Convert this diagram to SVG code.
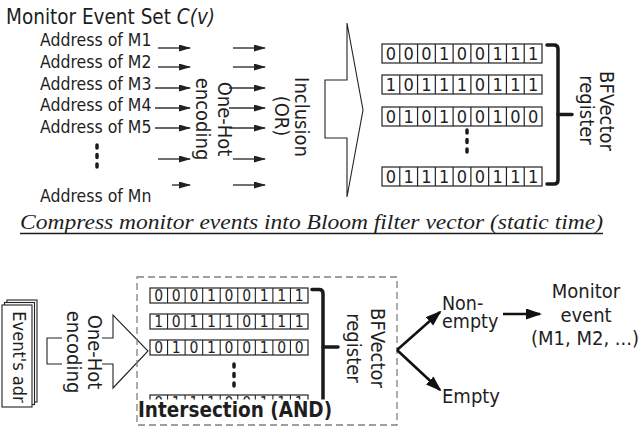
<svg xmlns="http://www.w3.org/2000/svg" width="642" height="428" viewBox="0 0 642 428">
<style>
.t{font-family:"DejaVu Sans Condensed","DejaVu Sans",sans-serif;fill:#1e1e1e;}
.lbl{font-size:17.5px;}
.big{font-size:20px;}
.rt{font-size:20px;text-anchor:middle;}
.bit{font-size:18px;text-anchor:middle;}
.bits{font-size:15.5px;text-anchor:middle;}
.cell{fill:#fff;stroke:#222;stroke-width:1.2;}
.thin{stroke:#333;stroke-width:1.4;fill:none;}
.thick{stroke:#111;stroke-width:2.6;fill:none;}
.brace{stroke:#1a1a1a;stroke-width:3.5;fill:none;stroke-linecap:round;stroke-linejoin:round;}
.dots{stroke:#1a1a1a;stroke-width:3.5;stroke-linecap:round;stroke-dasharray:3 6.5;fill:none;}
.bigarrow{fill:#fff;stroke:#222;stroke-width:1.1;}
</style>
<defs>
<marker id="ah" markerUnits="userSpaceOnUse" markerWidth="12" markerHeight="8" refX="11" refY="3.5" orient="auto">
<path d="M0,0 L12,3.5 L0,7 z" fill="#222"/>
</marker>
<marker id="ahb" markerUnits="userSpaceOnUse" markerWidth="16" markerHeight="12" refX="14" refY="5.5" orient="auto">
<path d="M0,0 L16,5.5 L0,11 z" fill="#111"/>
</marker>
<g id="row0"><rect class="cell" x="0" y="0" width="160" height="19"/></g>
</defs>

<!-- ===== Top section ===== -->
<g id="title">
<text class="t" x="6" y="24" style="font-size:20.5px">Monitor Event Set <tspan font-style="italic">C(v)</tspan></text>
</g>

<g id="addresses">
<text class="t lbl" x="40" y="46">Address of M1</text>
<text class="t lbl" x="40" y="68">Address of M2</text>
<text class="t lbl" x="40" y="90">Address of M3</text>
<text class="t lbl" x="40" y="111">Address of M4</text>
<text class="t lbl" x="40" y="133">Address of M5</text>
<text class="t lbl" x="40" y="202">Address of Mn</text>
<line class="dots" x1="97" y1="145" x2="97" y2="171"/>
</g>

<g id="connectors-top">
<line class="thin" x1="158" y1="48" x2="190" y2="48" marker-end="url(#ah)"/>
<line class="thin" x1="158" y1="67" x2="190" y2="67" marker-end="url(#ah)"/>
<line class="thin" x1="155" y1="88" x2="190" y2="88" marker-end="url(#ah)"/>
<line class="thin" x1="155" y1="108" x2="190" y2="108" marker-end="url(#ah)"/>
<line class="thin" x1="155" y1="128" x2="190" y2="128" marker-end="url(#ah)"/>
<line class="thin" x1="158" y1="159" x2="190" y2="159" marker-end="url(#ah)"/>
<line class="thin" x1="172" y1="185" x2="190" y2="185" marker-end="url(#ah)"/>
<line class="thin" x1="233" y1="48" x2="265" y2="48" marker-end="url(#ah)"/>
<line class="thin" x1="233" y1="67" x2="265" y2="67" marker-end="url(#ah)"/>
<line class="thin" x1="229" y1="88" x2="265" y2="88" marker-end="url(#ah)"/>
<line class="thin" x1="229" y1="108" x2="265" y2="108" marker-end="url(#ah)"/>
<line class="thin" x1="229" y1="128" x2="265" y2="128" marker-end="url(#ah)"/>
<line class="thin" x1="233" y1="159" x2="265" y2="159" marker-end="url(#ah)"/>
<line class="thin" x1="233" y1="185" x2="265" y2="185" marker-end="url(#ah)"/>
</g>

<g id="onehot-top">
<text class="t rt" transform="translate(218,119) rotate(90)">One-Hot</text>
<text class="t rt" transform="translate(196,119) rotate(90)">encoding</text>
</g>

<g id="inclusion">
<text class="t rt" transform="translate(294.5,117) rotate(90)">Inclusion</text>
<text class="t rt" transform="translate(274.5,116) rotate(90)">(OR)</text>
</g>

<g id="bigarrow-top">
<polygon class="bigarrow" points="325,80 347,80 347,23 363,110 347,197 347,138 325,138"/>
</g>

<g id="vectors-top">
<g transform="translate(382,44)">
<rect class="cell" x="0" y="0" width="160" height="19"/>
<path d="M17.78,0v19M35.56,0v19M53.33,0v19M71.11,0v19M88.89,0v19M106.67,0v19M124.44,0v19M142.22,0v19" stroke="#222" stroke-width="1.2"/>
<text class="t bit" y="16"><tspan x="8.9">0</tspan><tspan x="26.7">0</tspan><tspan x="44.4">0</tspan><tspan x="62.2">1</tspan><tspan x="80">0</tspan><tspan x="97.8">0</tspan><tspan x="115.6">1</tspan><tspan x="133.3">1</tspan><tspan x="151.1">1</tspan></text>
</g>
<g transform="translate(382,75)">
<rect class="cell" x="0" y="0" width="160" height="19"/>
<path d="M17.78,0v19M35.56,0v19M53.33,0v19M71.11,0v19M88.89,0v19M106.67,0v19M124.44,0v19M142.22,0v19" stroke="#222" stroke-width="1.2"/>
<text class="t bit" y="16"><tspan x="8.9">1</tspan><tspan x="26.7">0</tspan><tspan x="44.4">1</tspan><tspan x="62.2">1</tspan><tspan x="80">1</tspan><tspan x="97.8">0</tspan><tspan x="115.6">1</tspan><tspan x="133.3">1</tspan><tspan x="151.1">1</tspan></text>
</g>
<g transform="translate(382,107)">
<rect class="cell" x="0" y="0" width="160" height="19"/>
<path d="M17.78,0v19M35.56,0v19M53.33,0v19M71.11,0v19M88.89,0v19M106.67,0v19M124.44,0v19M142.22,0v19" stroke="#222" stroke-width="1.2"/>
<text class="t bit" y="16"><tspan x="8.9">0</tspan><tspan x="26.7">1</tspan><tspan x="44.4">0</tspan><tspan x="62.2">1</tspan><tspan x="80">0</tspan><tspan x="97.8">0</tspan><tspan x="115.6">1</tspan><tspan x="133.3">0</tspan><tspan x="151.1">0</tspan></text>
</g>
<line class="dots" x1="467" y1="130" x2="467" y2="158"/>
<g transform="translate(382,167)">
<rect class="cell" x="0" y="0" width="160" height="19"/>
<path d="M17.78,0v19M35.56,0v19M53.33,0v19M71.11,0v19M88.89,0v19M106.67,0v19M124.44,0v19M142.22,0v19" stroke="#222" stroke-width="1.2"/>
<text class="t bit" y="16"><tspan x="8.9">0</tspan><tspan x="26.7">1</tspan><tspan x="44.4">1</tspan><tspan x="62.2">1</tspan><tspan x="80">0</tspan><tspan x="97.8">0</tspan><tspan x="115.6">1</tspan><tspan x="133.3">1</tspan><tspan x="151.1">1</tspan></text>
</g>
</g>

<g id="register-top">
<path class="brace" d="M547,45 H554 Q558,45 558,49 V180 Q558,184 554,184 H547"/>
<path class="brace" d="M558,114.5 H572"/>
<text class="t rt" transform="translate(600,111) rotate(90)">BFVector</text>
<text class="t rt" transform="translate(580,110) rotate(90)">register</text>
</g>

<g id="caption">
<text x="20" y="229" textLength="583" lengthAdjust="spacingAndGlyphs" style="font-family:'Liberation Serif',serif;font-style:italic;font-size:21px;fill:#1e1e1e">Compress monitor events into Bloom filter vector (static time)</text>
<line x1="20" y1="233.5" x2="603" y2="233.5" stroke="#1e1e1e" stroke-width="1.3"/>
</g>

<!-- ===== Bottom section ===== -->
<g id="events-adr">
<rect x="7" y="300" width="30" height="102" fill="#fff" stroke="#222" stroke-width="1.1"/>
<rect x="4.5" y="302.5" width="30" height="102" fill="#fff" stroke="#222" stroke-width="1.1"/>
<rect x="2" y="305" width="30" height="102" fill="#fff" stroke="#222" stroke-width="1.1"/>
<text class="t rt" style="font-size:18px" transform="translate(13,357) rotate(90)">Event's adr</text>
</g>

<g id="bigarrow-bottom">
<polygon class="bigarrow" points="47,338 113,338 113,315 148,351 113,388 113,364 47,364"/>
<rect x="62" y="311" width="40" height="83" fill="#fff"/>
<text class="t rt" transform="translate(87.5,352) rotate(90)">One-Hot</text>
<text class="t rt" transform="translate(67,352) rotate(90)">encoding</text>
</g>

<g id="and-box">
<rect x="137" y="277" width="260" height="148" fill="none" stroke="#808080" stroke-width="1.3" stroke-dasharray="7 4"/>
<g transform="translate(150,288)">
<rect class="cell" x="0" y="0" width="158" height="15"/>
<path d="M17.56,0v15M35.11,0v15M52.67,0v15M70.22,0v15M87.78,0v15M105.33,0v15M122.89,0v15M140.44,0v15" stroke="#222" stroke-width="1.1"/>
<text class="t bits" y="13"><tspan x="8.8">0</tspan><tspan x="26.3">0</tspan><tspan x="43.9">0</tspan><tspan x="61.4">1</tspan><tspan x="79">0</tspan><tspan x="96.6">0</tspan><tspan x="114.1">1</tspan><tspan x="131.7">1</tspan><tspan x="149.2">1</tspan></text>
</g>
<g transform="translate(150,314)">
<rect class="cell" x="0" y="0" width="158" height="15"/>
<path d="M17.56,0v15M35.11,0v15M52.67,0v15M70.22,0v15M87.78,0v15M105.33,0v15M122.89,0v15M140.44,0v15" stroke="#222" stroke-width="1.1"/>
<text class="t bits" y="13"><tspan x="8.8">1</tspan><tspan x="26.3">0</tspan><tspan x="43.9">1</tspan><tspan x="61.4">1</tspan><tspan x="79">1</tspan><tspan x="96.6">0</tspan><tspan x="114.1">1</tspan><tspan x="131.7">1</tspan><tspan x="149.2">1</tspan></text>
</g>
<g transform="translate(150,340)">
<rect class="cell" x="0" y="0" width="158" height="15"/>
<path d="M17.56,0v15M35.11,0v15M52.67,0v15M70.22,0v15M87.78,0v15M105.33,0v15M122.89,0v15M140.44,0v15" stroke="#222" stroke-width="1.1"/>
<text class="t bits" y="13"><tspan x="8.8">0</tspan><tspan x="26.3">1</tspan><tspan x="43.9">0</tspan><tspan x="61.4">1</tspan><tspan x="79">0</tspan><tspan x="96.6">0</tspan><tspan x="114.1">1</tspan><tspan x="131.7">0</tspan><tspan x="149.2">0</tspan></text>
</g>
<line class="dots" x1="234" y1="364" x2="234" y2="389"/>
<g transform="translate(150,395)">
<rect class="cell" x="0" y="0" width="158" height="15"/>
<path d="M17.56,0v15M35.11,0v15M52.67,0v15M70.22,0v15M87.78,0v15M105.33,0v15M122.89,0v15M140.44,0v15" stroke="#222" stroke-width="1.1"/>
<text class="t bits" y="13"><tspan x="8.8">0</tspan><tspan x="26.3">1</tspan><tspan x="43.9">1</tspan><tspan x="61.4">1</tspan><tspan x="79">0</tspan><tspan x="96.6">0</tspan><tspan x="114.1">1</tspan><tspan x="131.7">1</tspan><tspan x="149.2">1</tspan></text>
</g>
<path class="brace" d="M312,289.5 H319 Q323,289.5 323,293.5 V403 Q323,407 319,407 H312"/>
<path class="brace" d="M323,347 H338"/>
<rect x="139" y="399.5" width="198" height="22" fill="#fff"/>
<text class="t" x="138" y="417" style="font-size:20.5px;font-weight:bold">Intersection (AND)</text>
<text class="t rt" transform="translate(370.5,348) rotate(90)">BFVector</text>
<text class="t rt" transform="translate(347,348) rotate(90)">register</text>
</g>

<g id="connectors-bottom">
<line class="thick" x1="397" y1="350" x2="440" y2="312" marker-end="url(#ahb)"/>
<line class="thick" x1="397" y1="350" x2="440" y2="390" marker-end="url(#ahb)"/>
<line class="thick" x1="503" y1="314" x2="540" y2="314" marker-end="url(#ahb)"/>
</g>

<g id="nonempty">
<text class="t" x="442" y="310" style="font-size:19.5px">Non-</text>
<text class="t" x="442" y="328" style="font-size:19.5px">empty</text>
</g>
<g id="empty">
<text class="t" x="442" y="403" style="font-size:20px">Empty</text>
</g>
<g id="monitor-event">
<text class="t" x="586" y="298" style="font-size:20px;text-anchor:middle">Monitor</text>
<text class="t" x="586" y="322" style="font-size:20px;text-anchor:middle">event</text>
<text class="t" x="585" y="345" style="font-size:20px;text-anchor:middle">(M1, M2, ...)</text>
</g>
</svg>
